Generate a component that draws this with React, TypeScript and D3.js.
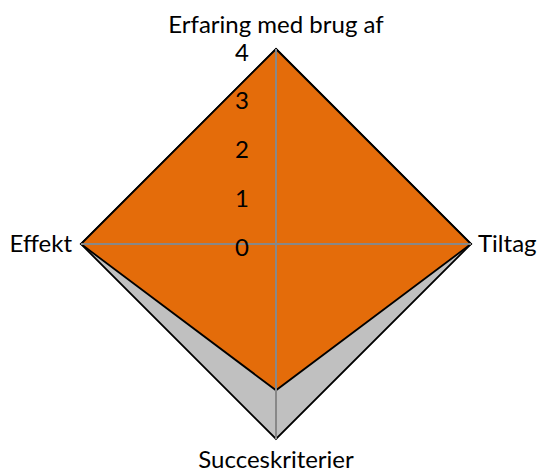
import React from "react";
import * as d3 from "d3";

const axes = ["Erfaring med brug af", "Tiltag", "Succeskriterier", "Effekt"];
const grayValues = [4, 4, 4, 4];
const orangeValues = [4, 4, 3, 4];
const ticks = [0, 1, 2, 3, 4];

const W = 537;
const H = 475;
const cx = 276;
const cy = 244;
const R = 195;
const FONT = "Lato, 'Liberation Sans', sans-serif";

const App: React.FC = () => {
  const r = d3.scaleLinear().domain([0, 4]).range([0, R]);
  const angle = (i: number) => (i * 2 * Math.PI) / axes.length;

  const line = d3
    .lineRadial<number>()
    .angle((_, i) => angle(i))
    .radius((d) => r(d))
    .curve(d3.curveLinearClosed);

  const pt = (i: number, v: number) => {
    const a = angle(i);
    return [Math.sin(a) * r(v), -Math.cos(a) * r(v)];
  };

  return (
    <svg
      width={W}
      height={H}
      style={{ position: "absolute", left: 0, top: 0 }}
      fontFamily={FONT}
    >
      <g transform={`translate(${cx},${cy})`}>
        <path d={line(grayValues) || ""} fill="#c0c0c0" stroke="#000" strokeWidth={1.8} strokeLinejoin="miter" />
        <path d={line(orangeValues) || ""} fill="#e46c0a" stroke="#000" strokeWidth={1.8} strokeLinejoin="miter" />
        {axes.map((_, i) => {
          const [x, y] = pt(i, 4);
          return <line key={i} x1={0} y1={0} x2={x} y2={y} stroke="#888" strokeWidth={2} />;
        })}
        {ticks.map((t) => (
          <text key={t} x={-34} y={-r(t) + 2} textAnchor="middle" dominantBaseline="central" fontSize={24} fill="#000">
            {t}
          </text>
        ))}
        <text x={0} y={-R - 16} textAnchor="middle" fontSize={24}>{axes[0]}</text>
        <text x={R + 7} y={8} textAnchor="start" fontSize={24}>{axes[1]}</text>
        <text x={0} y={R + 29} textAnchor="middle" fontSize={24}>{axes[2]}</text>
        <text x={-R - 9} y={8} textAnchor="end" fontSize={24}>{axes[3]}</text>
      </g>
    </svg>
  );
};

export default App;
